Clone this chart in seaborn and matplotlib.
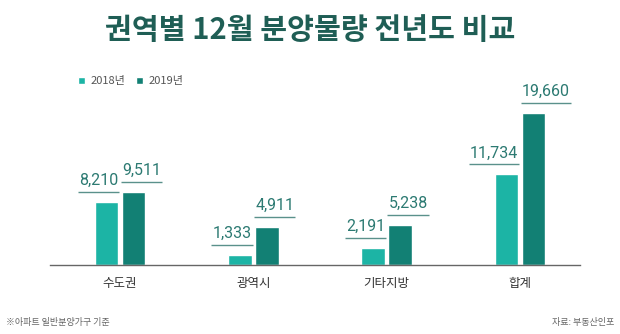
import matplotlib
matplotlib.use("Agg")
import matplotlib.pyplot as plt
import matplotlib.transforms as mtransforms
import seaborn as sns
import pandas as pd

regions = ["수도권", "광역시", "기타지방", "합계"]
years = ["2018년", "2019년"]
values_2018 = [8210, 1333, 2191, 11734]
values_2019 = [9511, 4911, 5238, 19660]

title = "권역별 12월 분양물량 전년도 비교"
note_left = "※아파트 일반분양가구 기준"
note_right = "자료: 부동산인포"

c18 = "#1cb4a5"
c19 = "#128074"
title_color = "#1f5e55"
label_color = "#2c7a72"

sns.set_style("white")
plt.rcParams["font.family"] = ["Noto Sans CJK KR", "DejaVu Sans"]

df = pd.DataFrame({
    "region": regions * 2,
    "year": [years[0]] * 4 + [years[1]] * 4,
    "value": values_2018 + values_2019,
})

fig = plt.figure(figsize=(6.2, 3.34), dpi=100)
ax = fig.add_axes([50 / 620, (334 - 265) / 334, 530 / 620, 170 / 334])

sns.barplot(data=df, x="region", y="value", hue="year", order=regions,
            hue_order=years, palette=[c18, c19], width=0.405, gap=0.13,
            saturation=1, errorbar=None, ax=ax)

ax.set_xlim(-0.525, 3.45)
ax.set_ylim(0, 22000)
ax.set_xlabel("")
ax.set_ylabel("")
ax.set_yticks([])
for s in ["top", "right", "left"]:
    ax.spines[s].set_visible(False)
ax.spines["bottom"].set_color("#666666")
ax.spines["bottom"].set_linewidth(1.0)
ax.tick_params(axis="x", length=0, labelsize=9, labelcolor="#333333", pad=9)
ax.set_xticks([-0.52, 0.5, 1.5, 2.5], minor=True)
ax.tick_params(axis="x", which="minor", direction="in", length=4, color="#666666", width=1)

sns.move_legend(ax, loc="upper left", bbox_to_anchor=(68 / 620, 1 - 66 / 334),
                bbox_transform=fig.transFigure, ncol=2, frameon=False, title=None,
                handlelength=0.6, handleheight=0.6, handletextpad=0.5,
                columnspacing=1.0, fontsize=8, labelcolor="#555555")

fig.canvas.draw()
renderer = fig.canvas.get_renderer()
text_off = mtransforms.offset_copy(ax.transData, fig=fig, x=0, y=14, units="dots")
line_off = mtransforms.offset_copy(ax.transData, fig=fig, x=0, y=10, units="dots")

for ci, container in enumerate(ax.containers):
    for bar in container:
        h = bar.get_height()
        x0 = bar.get_x()
        x1 = x0 + bar.get_width()
        if ci == 0:
            xa, ha = x1, "right"
        else:
            xa, ha = x0, "left"
        t = ax.text(xa, h, f"{h:,.0f}", ha=ha, va="bottom", transform=text_off,
                    fontsize=11.5, color=label_color, family=["Roboto", "DejaVu Sans"])
        bb = t.get_window_extent(renderer)
        inv = ax.transData.inverted()
        (lx0, _), (lx1, _) = inv.transform([(bb.x0 - 1, 0), (bb.x1 + 1, 0)])
        ax.plot([lx0, lx1], [h, h], color="#5a918b", lw=1.0, transform=line_off,
                solid_capstyle="butt")

fig.text(0.5, 1 - 30 / 334, title, ha="center", va="center", fontsize=21,
         color=title_color, fontweight="bold")
fig.text(6 / 620, 1 - 323 / 334, note_left, ha="left", va="center", fontsize=6.5,
         color="#666666")
fig.text(614 / 620, 1 - 323 / 334, note_right, ha="right", va="center", fontsize=6.5,
         color="#666666")

fig.savefig("out.png", dpi=100, facecolor="white")
